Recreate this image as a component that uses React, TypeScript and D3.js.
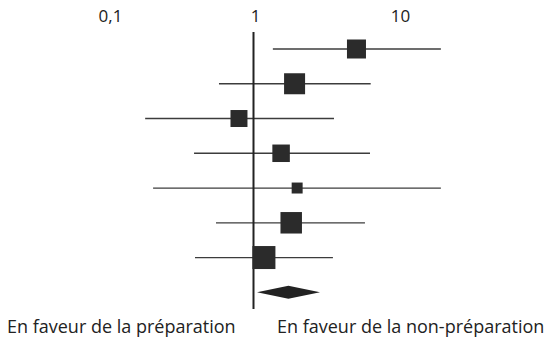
import React from "react";
import * as d3 from "d3";

// Study-level odds ratios (point estimate with 95% CI) and relative weights (%)
const studies = ["1", "2", "3", "4", "5", "6", "7"];
const estimates = [5.13, 1.92, 0.794, 1.55, 2.0, 1.82, 1.18];
const lower = [1.36, 0.578, 0.179, 0.389, 0.203, 0.551, 0.395];
const upper = [19.6, 6.43, 3.59, 6.36, 19.6, 5.87, 3.53];
const weights = [14.4, 17.6, 11.5, 12.2, 4.8, 18.4, 21.1];

// Pooled estimate
const pooled = [1.057, 1.74, 2.875];

const tickValues = [0.1, 1, 10];
const leftLabel = "En faveur de la préparation";
const rightLabel = "En faveur de la non-préparation";

const W = 546;
const H = 338;
const FONT = "'Open Sans', 'Noto Sans', sans-serif";

const frLocale = d3.formatLocale({
  decimal: ",",
  thousands: " ",
  grouping: [3],
  currency: ["", " €"],
});
const fmt = frLocale.format("~g");

export default function App() {
  const x = d3.scaleLog().domain([0.1, 10]).range([108.5, 398.5]);
  const rows = d3
    .scalePoint<number>()
    .domain(d3.range(studies.length + 1))
    .range([49, 292.3]);
  const side = d3.scaleSqrt().domain([0, 21.1]).range([0, 23]);

  const pooledY = rows(studies.length)!;
  const diamond = d3.line()([
    [x(pooled[0]), pooledY],
    [x(pooled[1]), pooledY - 6.5],
    [x(pooled[2]), pooledY],
    [x(pooled[1]), pooledY + 6.5],
  ]);

  return (
    <svg
      width={W}
      height={H}
      style={{ position: "absolute", left: 0, top: 0, background: "#fff" }}
    >
      {/* axis tick labels */}
      {tickValues.map((t) => (
        <text
          key={t}
          x={x(t) + 2}
          y={22}
          textAnchor="middle"
          fontFamily={FONT}
          fontSize={17}
          fill="#222"
        >
          {fmt(t)}
        </text>
      ))}

      {/* confidence intervals */}
      {studies.map((s, i) => (
        <line
          key={"ci" + s}
          x1={x(lower[i])}
          x2={x(upper[i])}
          y1={rows(i)}
          y2={rows(i)}
          stroke="#3c3c3c"
          strokeWidth={1.3}
        />
      ))}

      {/* line of no effect */}
      <line
        x1={x(1)}
        x2={x(1)}
        y1={32}
        y2={309}
        stroke="#222"
        strokeWidth={2}
      />

      {/* weighted point estimates */}
      {studies.map((s, i) => {
        const a = side(weights[i]);
        return (
          <rect
            key={"sq" + s}
            x={x(estimates[i]) - a / 2}
            y={rows(i)! - a / 2}
            width={a}
            height={a}
            fill="#2b2b2b"
          />
        );
      })}

      {/* pooled estimate */}
      <path d={diamond ?? ""} fill="#222" />

      {/* direction labels */}
      <text x={7} y={333} fontFamily={FONT} fontSize={18} fill="#222">
        {leftLabel}
      </text>
      <text x={277} y={333} fontFamily={FONT} fontSize={18} fill="#222">
        {rightLabel}
      </text>
    </svg>
  );
}
